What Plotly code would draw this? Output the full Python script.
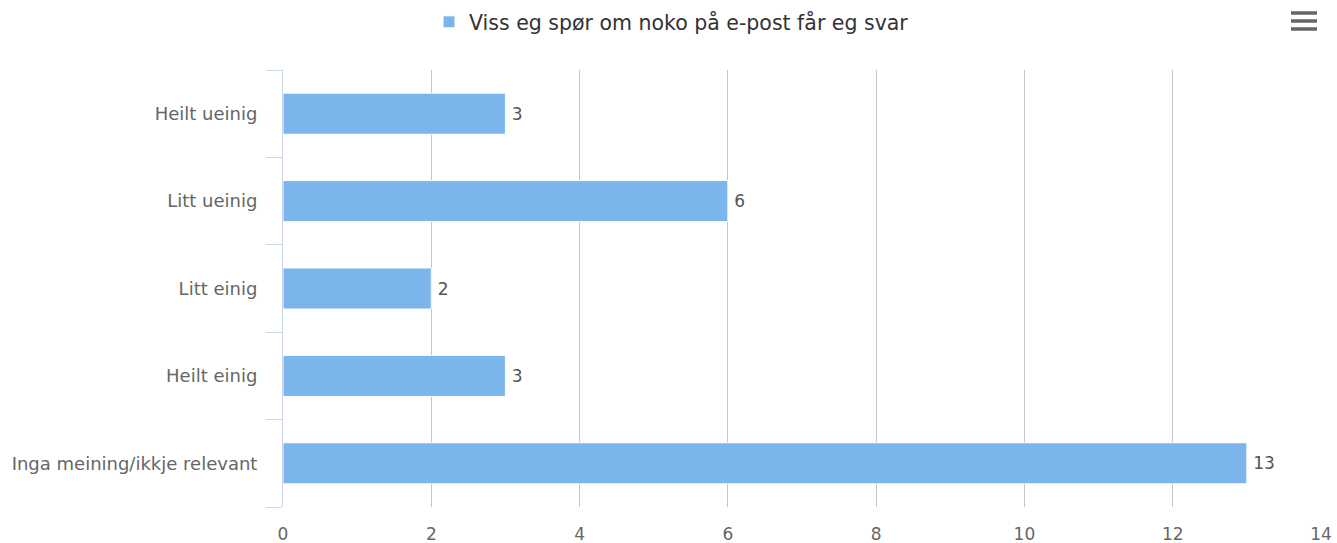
import plotly.graph_objects as go

categories = ["Heilt ueinig", "Litt ueinig", "Litt einig", "Heilt einig", "Inga meining/ikkje relevant"]
values = [3, 6, 2, 3, 13]
series_name = "Viss eg spør om noko på e-post får eg svar"
x_ticks = [0, 2, 4, 6, 8, 10, 12, 14]

FONT = "DejaVu Sans"
W, H = 1337, 543
L, T, PW, PH = 283, 70, 1038, 437

fig = go.Figure()
fig.add_trace(go.Bar(
    y=categories, x=values, orientation="h", name=series_name,
    marker=dict(color="#7cb5ec", line=dict(color="#ffffff", width=1)),
    width=0.47,
    text=["\u2009" + str(v) for v in values], textposition="outside", cliponaxis=False,
    textfont=dict(family=FONT, size=17, color="#555555"),
))

fig.update_layout(
    width=W, height=H,
    margin=dict(l=L, r=W - L - PW, t=T, b=H - T - PH, autoexpand=False),
    paper_bgcolor="white", plot_bgcolor="white",
    font=dict(family=FONT),
    showlegend=True,
    legend=dict(orientation="h", xref="container", yref="container",
                x=429 / W, xanchor="left", y=1 - 22 / H, yanchor="middle",
                font=dict(family=FONT, size=20.5, color="#333333")),
    xaxis=dict(range=[0, 14], tickvals=x_ticks, showgrid=True, gridcolor="#c4c4c4", gridwidth=1,
               zeroline=False, showline=False, ticks="", automargin=False,
               ticklabelstandoff=15,
               tickfont=dict(family=FONT, size=17, color="#666666")),
    yaxis=dict(categoryorder="array", categoryarray=categories[::-1],
               showline=True, linecolor="#ccd6eb", linewidth=1, automargin=False,
               ticks="outside", tickson="boundaries", ticklen=16, tickcolor="#ccd6eb",
               showgrid=False, ticklabelstandoff=21,
               tickfont=dict(family=FONT, size=18, color="#666666")),
)

# export menu icon (hamburger)
for py in [13, 21, 29]:
    yp = 1 + (T - py) / PH
    fig.add_shape(type="line", xref="paper", yref="paper",
                  x0=(1291 - L) / PW, x1=(1317 - L) / PW, y0=yp, y1=yp,
                  line=dict(color="#666666", width=3.5))

fig.write_html("out.html", config={"displayModeBar": False},
               post_script="document.body.style.margin='0px';")
